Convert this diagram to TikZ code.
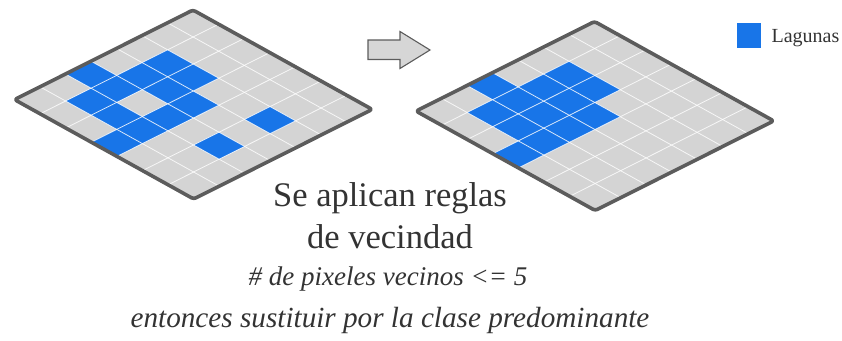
\documentclass[tikz,border=0pt]{standalone}
\usepackage{fontspec}
\setmainfont{Liberation Serif}
\definecolor{cellgray}{RGB}{212,212,212}
\definecolor{lagoon}{RGB}{24,117,232}
\definecolor{framegray}{RGB}{92,92,92}
\definecolor{arrowgray}{RGB}{214,214,214}
\definecolor{txt}{RGB}{51,51,51}
\newcommand\rastergrid[2]{%
\begin{scope}[shift={#1}, x={(-25.5pt,-12.8pt)}, y={(25.6pt,-14.2pt)}]
  \fill[cellgray] (0,0) -- (7,0) -- (7,7) -- (0,7) -- cycle;
  \foreach \r/\c in {#2} {\fill[lagoon] (\r,\c) -- ++(1,0) -- ++(0,1) -- ++(-1,0) -- cycle;}
  \foreach \i in {1,...,6} {
    \draw[gridln] (\i,0) -- (\i,7);
    \draw[gridln] (0,\i) -- (7,\i);
  }
  \draw[gridframe] (0,0) -- (7,0) -- (7,7) -- (0,7) -- cycle;
\end{scope}}
\begin{document}
\begin{tikzpicture}[x=1pt, y=-1pt,
  gridln/.style={white, opacity=0.8, line width=0.8pt},
  gridframe/.style={framegray, line width=3.6pt, rounded corners=2.5pt, line join=round},
  bigtext/.style={txt, anchor=base, font=\fontsize{34.5}{40}\selectfont},
  ittext/.style={txt, anchor=base, font=\fontsize{29.2}{34}\selectfont\itshape}]
\useasboundingbox (0,0) rectangle (842,340);
% left raster (before)
\rastergrid{(193,10)}{2/1,2/2,3/1,3/2,3/3,4/0,4/1,4/3,5/1,5/2,5/3,6/3,2/5,4/5}
% right raster (after)
\rastergrid{(594.5,21.5)}{2/1,2/2,3/1,3/2,3/3,4/0,4/1,4/2,4/3,5/1,5/2,5/3,6/3}
% block arrow
\draw[fill=arrowgray, draw=framegray, line width=1.1pt, line join=miter]
  (368,40) -- (400,40) -- (400,31.5) -- (430,50) -- (400,68.5) -- (400,59.5) -- (368,59.5) -- cycle;
% legend
\fill[lagoon] (737,23) rectangle (761,48);
\node[txt, anchor=base west, font=\fontsize{20}{24}\selectfont] (legtxt) at (768,42) {Lagunas};
% texts
\node[bigtext] (t1) at (390,206) {Se aplican reglas};
\node[bigtext] (t2) at (390,248) {de vecindad};
\node[ittext, font=\fontsize{27}{32}\selectfont\itshape] (t3) at (388,285) {\# de pixeles vecinos <= 5};
\node[ittext] (t4) at (390,327) {entonces sustituir por la clase predominante};
\end{tikzpicture}
\end{document}
